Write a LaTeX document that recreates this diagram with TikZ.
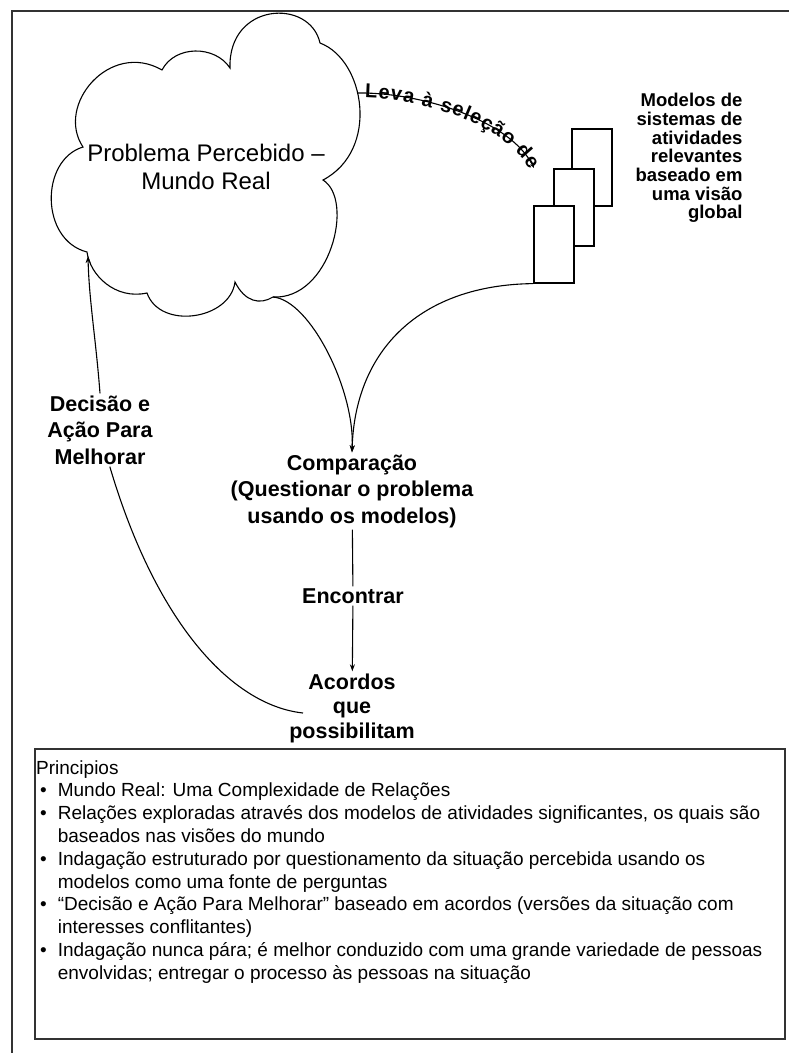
\documentclass[tikz,border=0pt]{standalone}
\usepackage{fontspec}
\setmainfont{Liberation Sans}
\usetikzlibrary{positioning,arrows.meta,decorations.text}

\newcommand{\levafont}{\bfseries\fontsize{20}{20}\selectfont}

\begin{document}
\begin{tikzpicture}[x=1pt,y=-1pt,
    rotulo/.style={font=\bfseries\fontsize{21.5}{26.5}\selectfont, align=center, inner sep=2pt},
    modelo/.style={draw, fill=white, line width=1.6pt, minimum width=40pt, minimum height=77pt, inner sep=0pt, anchor=north west},
    ligacao/.style={line width=1.1pt},
    seta/.style={ligacao, -{Stealth[length=7pt,width=5pt]}}]
  \useasboundingbox (0,0) rectangle (789,1053);

  % moldura
  \draw[line width=1.8pt, black!80] (12,1053) -- (12,11) -- (789,11);

  % nuvem do problema
  \coordinate (c1) at (162,70);
  \coordinate (c2) at (230,68);
  \coordinate (c3) at (320,43);
  \coordinate (c4) at (323,180);
  \coordinate (c5) at (273,297);
  \coordinate (c6) at (235,282);
  \coordinate (c7) at (147,293);
  \coordinate (c8) at (87,252);
  \coordinate (c9) at (83,147);
  \draw[line width=1.1pt] (c9) .. controls (55,105) and (110,40) .. (c1)
    .. controls (175,45) and (215,45) .. (c2)
    .. controls (228,2) and (310,-2) .. (c3)
    .. controls (365,60) and (380,150) .. (c4)
    .. controls (355,200) and (330,300) .. (c5)
    .. controls (260,305) and (245,302) .. (c6)
    .. controls (230,320) and (160,330) .. (c7)
    .. controls (115,300) and (90,275) .. (c8)
    .. controls (40,240) and (40,160) .. (c9) -- cycle;
  \node[font=\fontsize{24}{28}\selectfont, align=center] (problema) at (206,167) {Problema Percebido --\\Mundo Real};

  % modelos
  \node[modelo] (m1) at (571,128) {};
  \node[modelo] (m2) at (553,168) {};
  \node[modelo] (m3) at (533,205) {};
  \node[font=\bfseries\fontsize{18.5}{18.7}\selectfont, align=right, anchor=east] (descricao) at (746,158)
    {Modelos de\\sistemas de\\atividades\\relevantes\\baseado em\\uma visão\\global};

  % textos do ciclo
  \node[rotulo] (comparacao) at (352,491) {Comparação\\(Questionar o problema\\usando os modelos)};
  \node[rotulo] (encontrar) at (353,596) {Encontrar};
  \node[rotulo, font=\bfseries\fontsize{21.5}{24.5}\selectfont] (acordos) at (352,708) {Acordos\\que\\possibilitam};
  \node[rotulo] (decisao) at (100,430) {Decisão e\\Ação Para\\Melhorar};

  \coordinate (cloudR) at (357,93);
  \coordinate (fimLeva) at (534,168);
  \coordinate (inicio) at (303,713);
  \coordinate (entrada) at (88,256);

  % ligacoes
  \draw[ligacao, -{Stealth[length=5pt,width=4pt]},
    postaction={decorate, decoration={text along path, text format delimiters={|}{|},
      text={|\levafont|Leva à seleção de}, text align={fit to path, left indent=8pt, right indent=1pt}, raise=-5pt}}]
    (cloudR) .. controls (420,92) and (510,120) .. (fimLeva);
  \draw[seta] (c5) .. controls (310,300) and (355,390) .. (comparacao.north);
  \draw[seta] (m3.south west) .. controls (420,285) and (355,350) .. (comparacao.north);
  \draw[ligacao] (comparacao) -- (encontrar);
  \draw[seta] (encontrar) -- (acordos);
  \draw[ligacao] (inicio) .. controls (230,705) and (155,620) .. (decisao.-75);
  \draw[seta] (decisao.north) .. controls (96,340) and (89,300) .. (entrada);

  % principios
  \node[draw, line width=1.8pt, black!80, minimum width=750pt, minimum height=290pt, anchor=north west, inner sep=0pt] (quadro) at (34,748) {};
  \node[anchor=north west, inner sep=0pt, font=\fontsize{19}{22.8}\selectfont] (principios) at (36,758) {%
    \begin{tabular}{@{\hspace{4pt}}l@{\hspace{11pt}}l@{}}
      \multicolumn{2}{@{}l}{Principios}\\
      \textbullet & Mundo Real: Uma Complexidade de Relações\\
      \textbullet & Relações exploradas através dos modelos de atividades significantes, os quais são\\
                  & baseados nas visões do mundo\\
      \textbullet & Indagação estruturado por questionamento da situação percebida usando os\\
                  & modelos como uma fonte de perguntas\\
      \textbullet & “Decisão e Ação Para Melhorar” baseado em acordos (versões da situação com\\
                  & interesses conflitantes)\\
      \textbullet & Indagação nunca pára; é melhor conduzido com uma grande variedade de pessoas\\
                  & envolvidas; entregar o processo às pessoas na situação
    \end{tabular}};
\end{tikzpicture}
\end{document}
